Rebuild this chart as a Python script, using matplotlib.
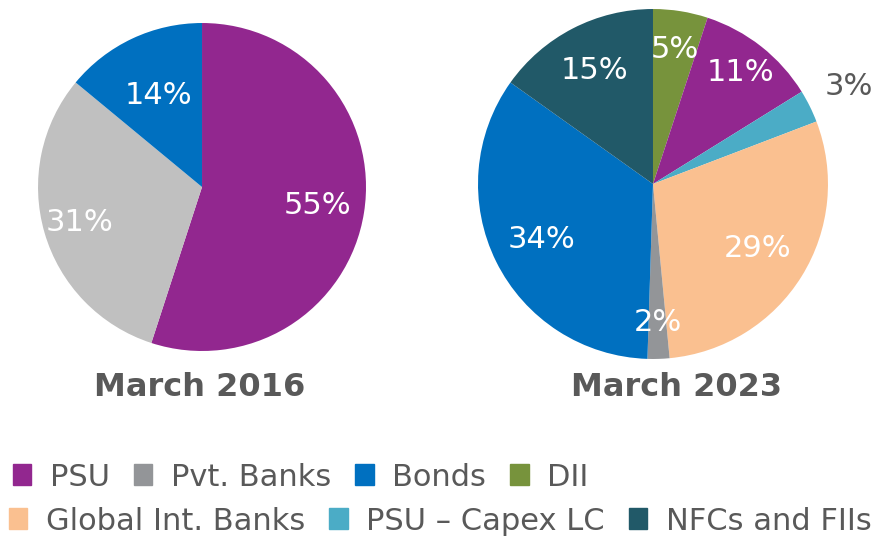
import matplotlib.pyplot as plt
import numpy as np

# data
labels_2016 = ['PSU', 'Pvt. Banks', 'Bonds']
values_2016 = [55, 31, 14]
labels_2023 = ['DII', 'PSU', 'PSU \u2013 Capex LC', 'Global Int. Banks', 'Pvt. Banks', 'Bonds', 'NFCs and FIIs']
values_2023 = [5, 11, 3, 29, 2, 34, 15]
titles = ['March 2016', 'March 2023']

colors = {
    'PSU': '#92278F',
    'Pvt. Banks': '#939598',
    'Bonds': '#0070C0',
    'DII': '#77933C',
    'Global Int. Banks': '#FAC090',
    'PSU \u2013 Capex LC': '#4BACC6',
    'NFCs and FIIs': '#215968',
}
grey_2016 = '#C0C0C0'
text_grey = '#595959'

plt.rcParams['font.family'] = ['DejaVu Sans']

fig = plt.figure(figsize=(8.88, 5.48), dpi=100)

ax1 = fig.add_axes([0.0428, 0.3595, 0.3694, 0.5985])
ax2 = fig.add_axes([0.5383, 0.3449, 0.3941, 0.6387])


def draw_pie(ax, labels, values, cols, dists, outside):
    wedges, _ = ax.pie(values, colors=cols, startangle=90, counterclock=False,
                       radius=1, wedgeprops=dict(linewidth=0))
    for w, v, d, lab in zip(wedges, values, dists, labels):
        ang = np.deg2rad((w.theta1 + w.theta2) / 2)
        c = text_grey if lab in outside else 'white'
        ax.text(d * np.cos(ang), d * np.sin(ang), f'{v}%', ha='center', va='center',
                color=c, fontsize=22)
    ax.set_xlim(-1, 1)
    ax.set_ylim(-1, 1)
    return wedges


cols_2016 = [colors['PSU'], grey_2016, colors['Bonds']]
w1 = draw_pie(ax1, labels_2016, values_2016, cols_2016, [0.71, 0.78, 0.62], [])
cols_2023 = [colors[l] for l in labels_2023]
w2 = draw_pie(ax2, labels_2023, values_2023, cols_2023,
              [0.78, 0.81, 1.25, 0.70, 0.79, 0.71, 0.73], ['PSU \u2013 Capex LC'])

fig.text(200 / 888, 1 - 388 / 548, titles[0], ha='center', va='center',
         fontsize=23, fontweight='bold', color=text_grey)
fig.text(676 / 888, 1 - 388 / 548, titles[1], ha='center', va='center',
         fontsize=23, fontweight='bold', color=text_grey)

# legend rows
row1 = ['PSU', 'Pvt. Banks', 'Bonds', 'DII']
row2 = ['Global Int. Banks', 'PSU \u2013 Capex LC', 'NFCs and FIIs']
for row, x, y in [(row1, 13 / 888, 1 - 477 / 548), (row2, 9 / 888, 1 - 521 / 548)]:
    handles = [plt.Rectangle((0, 0), 1, 1, color=colors[l]) for l in row]
    fig.legend(handles, row, loc='center left', bbox_to_anchor=(x, y), ncol=len(row),
               frameon=False, prop={'size': 22},
               handlelength=0.6, handleheight=0.66,
               handletextpad=0.6, columnspacing=0.8, borderaxespad=0, borderpad=0,
               labelcolor=text_grey)

fig.savefig('out.png', dpi=100, facecolor='white')
